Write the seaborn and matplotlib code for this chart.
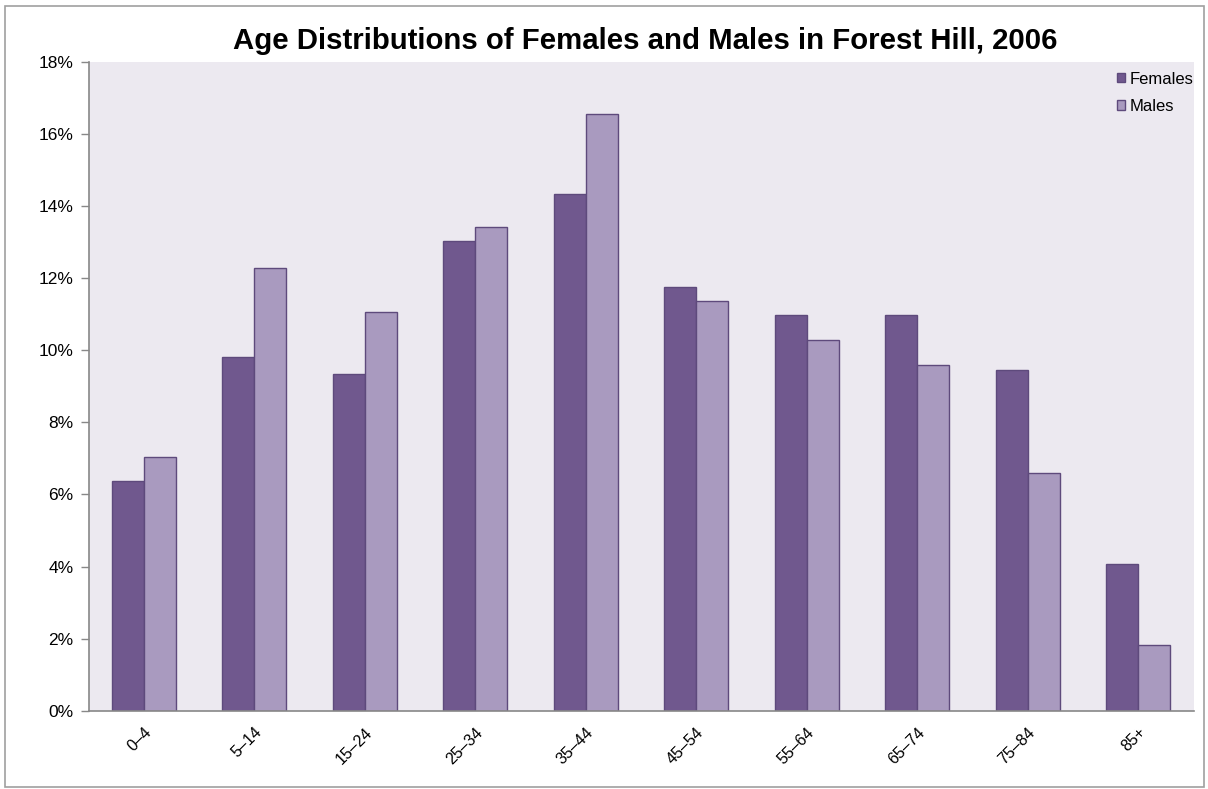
import numpy as np
import pandas as pd
import matplotlib
matplotlib.use('Agg')
import matplotlib.pyplot as plt
import seaborn as sns
from matplotlib.patches import Rectangle
from matplotlib.ticker import PercentFormatter

# ─── Data ────────────────────────────────────────────────────────────────────
age_groups = ['0–4', '5–14', '15–24', '25–34', '35–44',
              '45–54', '55–64', '65–74', '75–84', '85+']
females = [6.38, 9.81, 9.33, 13.04, 14.33, 11.75, 10.98, 10.98, 9.45, 4.06]
males   = [7.05, 12.29, 11.06, 13.41, 16.54, 11.37, 10.28, 9.59, 6.59, 1.82]

df = pd.DataFrame({
    'age': age_groups * 2,
    'pct': females + males,
    'sex': ['Females'] * len(age_groups) + ['Males'] * len(age_groups),
})

# ─── Style ───────────────────────────────────────────────────────────────────
sns.set_theme(style='white')
plt.rcParams['font.family'] = ['Liberation Sans', 'DejaVu Sans']
plt.rcParams['text.color'] = 'black'

fig = plt.figure(figsize=(12.08, 7.89), dpi=100)
ax = fig.add_axes([0.0733, 0.0992, 0.9147, 0.8226])
ax.set_facecolor('#ECE9F0')

sns.barplot(data=df, x='age', y='pct', hue='sex', order=age_groups,
            palette={'Females': '#70588E', 'Males': '#A99ABF'},
            width=0.58, gap=0, edgecolor='#5E4A7C', linewidth=1.0,
            saturation=1, ax=ax)

ax.set_ylim(0, 18)
ax.set_xlim(-0.5, len(age_groups) - 0.5)
ax.set_yticks(np.arange(0, 19, 2))
ax.yaxis.set_major_formatter(PercentFormatter(decimals=0))
ax.set_xlabel('')
ax.set_ylabel('')
ax.tick_params(axis='y', left=True, length=6, width=1, color='#888888',
               labelsize=12.5, labelcolor='black', pad=5)
ax.tick_params(axis='x', length=0, labelsize=11.5, labelcolor='black', pad=10)
plt.setp(ax.get_xticklabels(), rotation=45, ha='right', rotation_mode='anchor')

for side in ['top', 'right']:
    ax.spines[side].set_visible(False)
for side in ['left', 'bottom']:
    ax.spines[side].set_color('#888888')
    ax.spines[side].set_linewidth(1.2)

ax.set_title('Age Distributions of Females and Males in Forest Hill, 2006',
             fontsize=21.2, fontweight='bold', pad=9, color='black', x=0.5035)

leg = ax.legend(loc='upper right', bbox_to_anchor=(1.006, 0.995), frameon=False,
                fontsize=12, handlelength=0.5, handleheight=0.5,
                handletextpad=0.25, labelspacing=0.75, borderaxespad=0)
for txt in leg.get_texts():
    txt.set_color('black')

# outer chart border
fig.patches.append(Rectangle((0.004, 0.002), 0.993, 0.991, transform=fig.transFigure,
                             fill=False, edgecolor='#A0A0A0', linewidth=1.2))

fig.savefig('out.png', dpi=100)
